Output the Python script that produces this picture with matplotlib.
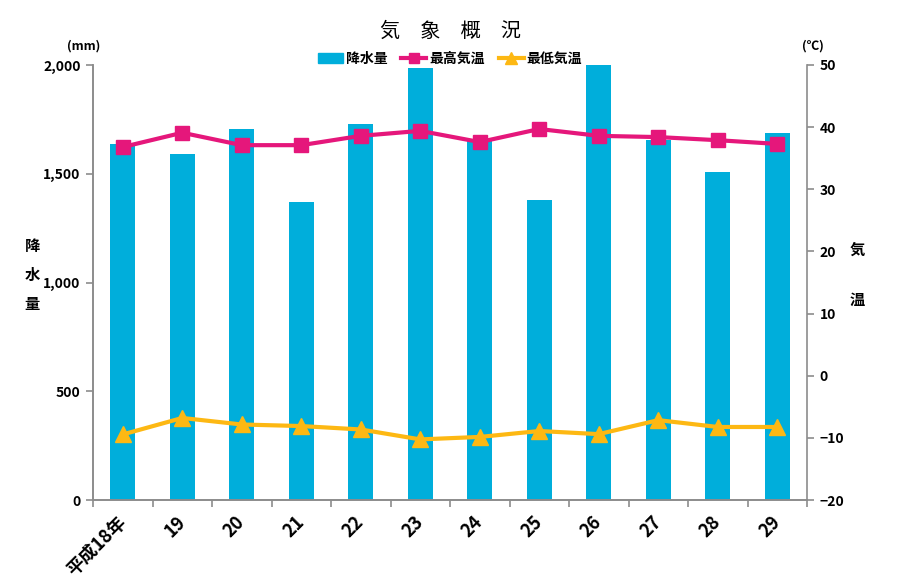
import matplotlib
matplotlib.use("Agg")
import matplotlib.pyplot as plt
import numpy as np
from matplotlib.ticker import FuncFormatter, FixedLocator
from matplotlib.lines import Line2D
from matplotlib.patches import Patch

plt.rcParams['font.family'] = ['Noto Sans CJK JP', 'DejaVu Sans']

categories = ["平成18年", "19", "20", "21", "22", "23", "24", "25", "26", "27", "28", "29"]
rainfall = [1636, 1592, 1708, 1368, 1729, 1985, 1656, 1381, 2000, 1653, 1510, 1688]
max_temp = [36.8, 39.1, 37.1, 37.1, 38.6, 39.4, 37.6, 39.7, 38.6, 38.4, 37.9, 37.3]
min_temp = [-9.45, -6.8, -7.85, -8.1, -8.65, -10.25, -9.85, -8.9, -9.4, -7.15, -8.25, -8.25]

blue = "#00AEDB"
pink = "#E5177B"
orange = "#FDB813"
spine_c = "#8C8C8C"

fig = plt.figure(figsize=(9, 5.86), dpi=100)
ax = fig.add_axes([93/900, 1-500/586, (807-93)/900, (500-65)/586])
ax2 = ax.twinx()

x = np.arange(len(categories))
ax.bar(x, rainfall, width=0.42, color=blue, zorder=2)
ax.set_xlim(-0.5, len(categories)-0.5)
ax.set_ylim(0, 2000)
ax.set_yticks([0, 500, 1000, 1500, 2000])
ax.yaxis.set_major_formatter(FuncFormatter(lambda v, p: f"{int(v):,}"))

ax2.plot(x, max_temp, color=pink, lw=3, marker='s', ms=10, zorder=3)
ax2.plot(x, min_temp, color=orange, lw=3, marker='^', ms=11, zorder=3)
ax2.set_ylim(-20, 50)
ax2.set_yticks(range(-20, 51, 10))

for a in (ax, ax2):
    a.spines['top'].set_visible(False)
    for s in ('left', 'right', 'bottom'):
        a.spines[s].set_color(spine_c)
        a.spines[s].set_linewidth(1.2)
ax.spines['right'].set_visible(False)

ax.set_xticks(x)
ax.set_xticklabels(categories, rotation=45, ha='right', va='center',
                   rotation_mode='anchor', fontsize=13, fontweight='bold')
ax.tick_params(axis='x', which='major', length=0, pad=14)
ax.xaxis.set_minor_locator(FixedLocator(np.arange(-0.5, len(categories), 1.0)))
ax.tick_params(axis='x', which='minor', length=5, color=spine_c, width=1.2)
ax.tick_params(axis='y', length=5, color=spine_c, width=1.2, labelsize=10, pad=4)
ax2.tick_params(axis='y', length=5, color=spine_c, width=1.2, labelsize=10, pad=4)
for lab in ax.get_yticklabels() + ax2.get_yticklabels():
    lab.set_fontweight('bold')

fig.text(0.5, 1-31/586, "気\u3000象\u3000概\u3000況", ha='center', va='center', fontsize=14.5)
fig.text(84/900, 1-46/586, "(mm)", ha='center', va='center', fontsize=9, fontweight='bold')
fig.text(813/900, 1-46/586, "(℃)", ha='center', va='center', fontsize=9, fontweight='bold')
for i, ch in enumerate("降水量"):
    fig.text(32/900, 1-(246+29*i)/586, ch, ha='center', va='center', fontsize=11, fontweight='bold')
fig.text(857/900, 1-250/586, "気", ha='center', va='center', fontsize=11, fontweight='bold')
fig.text(857/900, 1-300/586, "温", ha='center', va='center', fontsize=11, fontweight='bold')

handles = [Patch(color=blue),
           Line2D([], [], color=pink, lw=3, marker='s', ms=7),
           Line2D([], [], color=orange, lw=3, marker='^', ms=8)]
fig.legend(handles, ["降水量", "最高気温", "最低気温"], loc='center', bbox_to_anchor=(0.5, 1-59/586),
           ncol=3, frameon=False, prop={'size': 10, 'weight': 'bold'},
           handlelength=1.8, handletextpad=0.2, columnspacing=1.0, borderpad=0)

fig.savefig("out.png", dpi=100)
